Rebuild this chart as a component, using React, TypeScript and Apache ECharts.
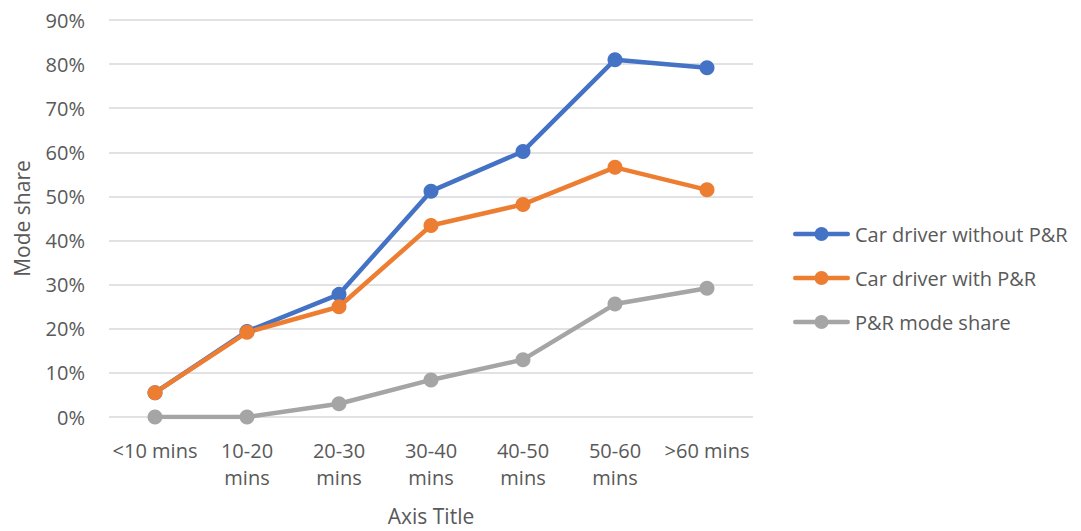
import React, { useEffect, useRef } from "react";
import * as echarts from "echarts";

const categories = ["<10 mins", "10-20 mins", "20-30 mins", "30-40 mins", "40-50 mins", "50-60 mins", ">60 mins"];
const withoutPR = [5.5, 19.4, 27.8, 51.2, 60.2, 81.0, 79.2];
const withPR = [5.5, 19.2, 25.0, 43.4, 48.2, 56.6, 51.5];
const prShare = [0, 0, 3.0, 8.4, 13.0, 25.6, 29.2];
const yTicks = [0, 10, 20, 30, 40, 50, 60, 70, 80, 90];

const FONT = "Open Sans";
const TXT = "#595959";
const LEG_ICON =
  "path://M2.25,4.75 H54.75 A2.25,2.25 0 0,1 54.75,9.25 H2.25 A2.25,2.25 0 0,1 2.25,4.75 Z M21.5,7 A7,7 0 1,1 35.5,7 A7,7 0 1,1 21.5,7 Z";

export default function App() {
  const ref = useRef<HTMLDivElement>(null);
  useEffect(() => {
    const chart = echarts.init(ref.current!, null, { renderer: "svg" });
    const mk = (name: string, data: number[], color: string) => ({
      name,
      type: "line",
      data,
      symbol: "circle",
      symbolSize: 15,
      lineStyle: { width: 4.5, color },
      itemStyle: { color },
      color,
    });
    chart.setOption({
      animation: false,
      textStyle: { fontFamily: FONT },
      grid: { left: 109, right: 328, top: 20, bottom: 113, containLabel: false },
      legend: {
        orient: "vertical",
        left: 788,
        top: 218,
        itemWidth: 57,
        itemHeight: 14,
        itemGap: 22,
        icon: LEG_ICON,
        textStyle: { fontSize: 20, lineHeight: 22, color: TXT, fontFamily: FONT },
        data: ["Car driver without P&R", "Car driver with P&R", "P&R mode share"],
      },
      xAxis: {
        type: "category",
        data: categories,
        boundaryGap: true,
        name: "Axis Title",
        nameLocation: "middle",
        nameGap: 88,
        nameTextStyle: { fontSize: 21, color: TXT, fontFamily: FONT },
        axisLine: { show: false },
        axisTick: { show: false },
        axisLabel: {
          interval: 0,
          fontSize: 20,
          color: TXT,
          margin: 20,
          lineHeight: 27,
          formatter: (v: string) => (v.startsWith("<") || v.startsWith(">") ? v : v.replace(" ", "\n")),
        },
      },
      yAxis: {
        type: "value",
        min: 0,
        max: 90,
        interval: 10,
        name: "Mode share",
        nameLocation: "middle",
        nameGap: 77,
        nameRotate: 90,
        nameTextStyle: { fontSize: 21, color: TXT, fontFamily: FONT },
        axisLine: { show: false },
        axisTick: { show: false },
        axisLabel: {
          fontSize: 20,
          color: TXT,
          margin: 24,
          formatter: (v: number) => (yTicks.includes(v) ? v + "%" : ""),
        },
        splitLine: { lineStyle: { color: "#d9d9d9", width: 1.5 } },
      },
      series: [
        mk("Car driver without P&R", withoutPR, "#4472c4"),
        mk("Car driver with P&R", withPR, "#ed7d31"),
        mk("P&R mode share", prShare, "#a5a5a5"),
      ],
    });
    return () => chart.dispose();
  }, []);
  return <div ref={ref} style={{ width: 1081, height: 531, position: "absolute", left: 0, top: 0, background: "#fff" }} />;
}
